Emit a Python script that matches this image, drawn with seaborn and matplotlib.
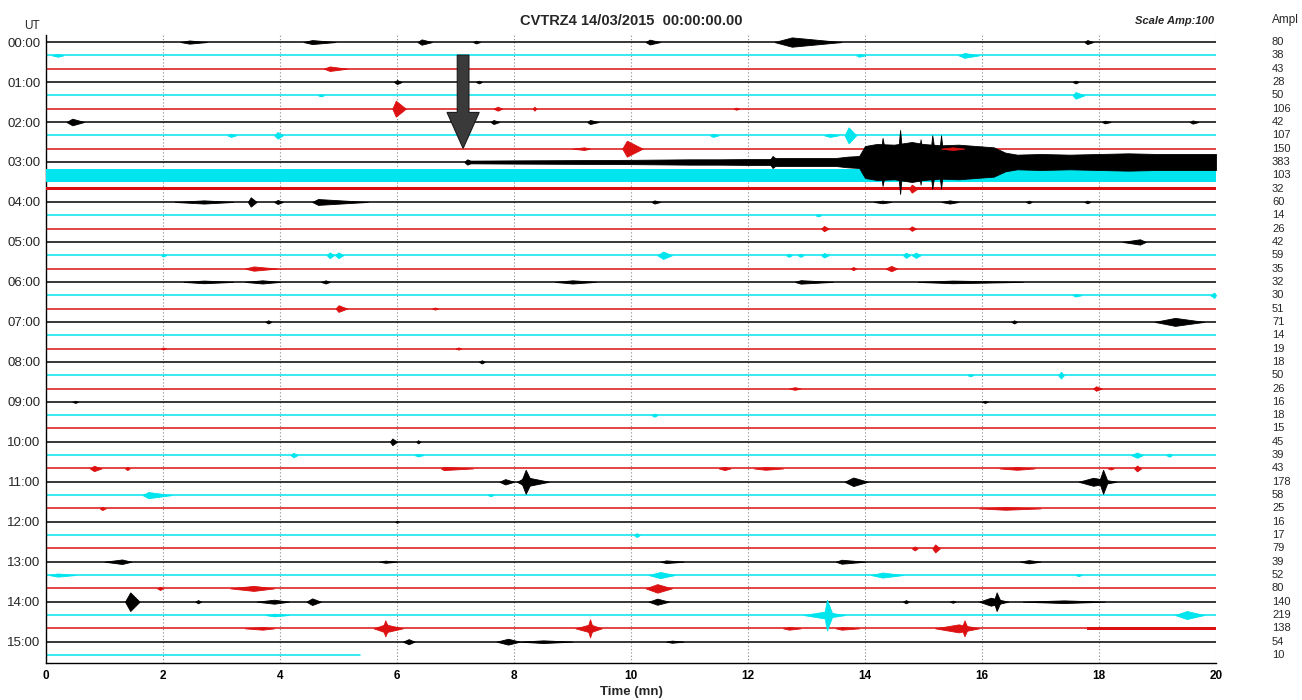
import numpy as np
import pandas as pd
import matplotlib
matplotlib.use("Agg")
import matplotlib.pyplot as plt
import matplotlib.transforms as mtransforms
from matplotlib.patches import FancyArrow
import seaborn as sns

# helicorder CVTRZ4, one trace every 20 min
hour_labels = ["00:00", "01:00", "02:00", "03:00", "04:00", "05:00", "06:00", "07:00",
               "08:00", "09:00", "10:00", "11:00", "12:00", "13:00", "14:00", "15:00"]
ampl = [80, 38, 43, 28, 50, 106, 42, 107, 150, 383, 103, 32, 60, 14, 26, 42,
        59, 35, 32, 30, 51, 71, 14, 19, 18, 50, 26, 16, 18, 15, 45, 39,
        43, 178, 58, 25, 16, 17, 79, 39, 52, 80, 140, 219, 138, 54, 10]
n_rows = len(ampl)
last_trace_end = 5.37   # minutes recorded on the last line (15:20)

# 03:00 line: envelope of the long signal (minutes, half width in row units)
row9_env_t = [7.2, 8.0, 9.0, 10.0, 10.5, 11.0, 11.5, 12.0, 12.4, 12.5, 13.0, 13.5, 13.7,
              13.9, 14.0, 14.2, 14.5, 14.8, 15.0, 15.3, 15.6, 15.9, 16.2, 16.4, 16.6,
              17.0, 17.5, 18.0, 18.5, 19.0, 19.5, 20.0]
row9_env_h = [0.1, 0.12, 0.14, 0.16, 0.18, 0.2, 0.2, 0.22, 0.22, 0.3, 0.3, 0.3, 0.4,
              0.45, 1.2, 1.35, 1.3, 1.5, 1.35, 1.25, 1.3, 1.2, 1.1, 0.7, 0.55,
              0.6, 0.55, 0.6, 0.65, 0.6, 0.6, 0.6]

# other background noise bands: (row, t_start, t_end, half width in row units)
noise_bands = [
    (10, 0.0, 20.0, 0.5), (11, 0.0, 20.0, 0.12), (44, 17.8, 20.0, 0.12),
]

# events: (row, t_start, t_peak, t_end, half amplitude in row units)
events = [
    (0, 2.3, 2.45, 2.75, 0.12), (0, 4.4, 4.55, 4.95, 0.15), (0, 6.35, 6.42, 6.6, 0.2),
    (0, 7.3, 7.35, 7.42, 0.1), (0, 10.25, 10.32, 10.5, 0.18), (0, 12.45, 12.75, 13.6, 0.35),
    (0, 17.75, 17.8, 17.9, 0.15),
    (1, 0.1, 0.2, 0.3, 0.1), (1, 13.85, 13.9, 14.0, 0.1), (1, 15.6, 15.7, 15.95, 0.18),
    (2, 4.75, 4.85, 5.15, 0.17),
    (3, 5.95, 6.0, 6.08, 0.15), (3, 7.35, 7.4, 7.45, 0.1), (3, 17.55, 17.6, 17.65, 0.1),
    (4, 4.65, 4.7, 4.75, 0.08), (4, 17.55, 17.6, 17.75, 0.25),
    (5, 5.92, 5.98, 6.15, 0.6), (5, 7.65, 7.72, 7.8, 0.15), (5, 8.32, 8.35, 8.38, 0.15),
    (5, 11.75, 11.8, 11.85, 0.08),
    (6, 0.35, 0.45, 0.65, 0.25), (6, 7.6, 7.65, 7.75, 0.15), (6, 9.25, 9.3, 9.45, 0.15),
    (6, 18.05, 18.1, 18.2, 0.1), (6, 19.55, 19.6, 19.7, 0.12),
    (7, 3.1, 3.16, 3.25, 0.12), (7, 3.9, 3.96, 4.05, 0.25), (7, 11.35, 11.4, 11.5, 0.12),
    (7, 13.3, 13.4, 13.55, 0.12), (7, 13.65, 13.72, 13.85, 0.6),
    (8, 9.0, 9.2, 9.3, 0.1), (8, 9.85, 9.93, 10.2, 0.6), (8, 15.3, 15.5, 15.7, 0.1),
    (9, 7.15, 7.2, 7.3, 0.2), (9, 12.35, 12.42, 12.55, 0.45),
    (9, 14.25, 14.3, 14.38, 1.8), (9, 14.55, 14.6, 14.65, 2.4), (9, 14.9, 14.95, 15.0, 1.7),
    (9, 15.1, 15.15, 15.22, 2.0), (9, 15.25, 15.3, 15.35, 2.0),
    (11, 14.75, 14.8, 14.9, 0.3),
    (12, 2.2, 2.7, 3.2, 0.12), (12, 3.45, 3.5, 3.6, 0.35), (12, 3.9, 3.96, 4.05, 0.15),
    (12, 4.55, 4.65, 5.5, 0.22), (12, 10.35, 10.4, 10.5, 0.12), (12, 14.15, 14.3, 14.45, 0.1),
    (12, 15.3, 15.45, 15.6, 0.12), (12, 16.75, 16.8, 16.85, 0.1), (12, 17.75, 17.8, 17.85, 0.1),
    (13, 13.15, 13.2, 13.25, 0.08),
    (14, 13.25, 13.3, 13.38, 0.2), (14, 14.75, 14.8, 14.87, 0.17),
    (15, 18.4, 18.7, 18.8, 0.2),
    (16, 1.97, 2.0, 2.05, 0.1), (16, 4.8, 4.85, 4.92, 0.22), (16, 4.94, 5.0, 5.08, 0.22),
    (16, 10.45, 10.55, 10.7, 0.28), (16, 12.65, 12.7, 12.75, 0.12), (16, 12.85, 12.9, 12.95, 0.12),
    (16, 13.25, 13.3, 13.38, 0.17), (16, 14.65, 14.7, 14.77, 0.2), (16, 14.8, 14.87, 14.95, 0.2),
    (17, 3.4, 3.55, 3.95, 0.16), (17, 13.75, 13.8, 13.85, 0.12), (17, 14.35, 14.45, 14.55, 0.2),
    (18, 2.35, 2.7, 3.2, 0.1), (18, 3.4, 3.7, 4.0, 0.12), (18, 4.7, 4.78, 4.85, 0.12),
    (18, 8.7, 9.0, 9.4, 0.12), (18, 12.8, 12.9, 13.45, 0.13), (18, 14.9, 15.5, 16.7, 0.1),
    (19, 17.55, 17.6, 17.7, 0.1), (19, 19.9, 19.97, 20.0, 0.2),
    (20, 4.95, 5.0, 5.15, 0.25), (20, 6.6, 6.65, 6.7, 0.08),
    (21, 3.75, 3.8, 3.85, 0.12), (21, 16.5, 16.55, 16.6, 0.12), (21, 18.95, 19.3, 19.8, 0.3),
    (23, 1.97, 2.0, 2.05, 0.08), (23, 7.0, 7.05, 7.1, 0.08),
    (24, 7.4, 7.45, 7.5, 0.12),
    (25, 15.75, 15.8, 15.85, 0.08), (25, 17.3, 17.35, 17.4, 0.25),
    (26, 12.7, 12.8, 12.9, 0.1), (26, 17.9, 17.95, 18.05, 0.17),
    (27, 0.45, 0.5, 0.55, 0.08), (27, 16.0, 16.05, 16.1, 0.08),
    (28, 10.35, 10.4, 10.45, 0.12),
    (30, 5.88, 5.92, 6.0, 0.25), (30, 6.33, 6.36, 6.4, 0.12),
    (31, 4.18, 4.23, 4.3, 0.17), (31, 6.3, 6.36, 6.45, 0.1), (31, 18.55, 18.65, 18.75, 0.2),
    (31, 19.15, 19.2, 19.25, 0.12),
    (32, 0.75, 0.82, 0.95, 0.2), (32, 1.35, 1.39, 1.43, 0.12), (32, 6.75, 6.8, 7.3, 0.12),
    (32, 11.5, 11.6, 11.7, 0.12), (32, 12.1, 12.3, 12.6, 0.1), (32, 16.3, 16.6, 16.9, 0.1),
    (32, 18.15, 18.2, 18.25, 0.08), (32, 18.6, 18.65, 18.72, 0.22),
    (33, 7.75, 7.85, 8.0, 0.2), (33, 8.05, 8.2, 8.6, 0.35), (33, 8.12, 8.2, 8.3, 0.9),
    (33, 13.65, 13.8, 14.05, 0.32), (33, 17.65, 17.9, 18.3, 0.3), (33, 18.0, 18.07, 18.15, 0.9),
    (34, 1.65, 1.75, 2.15, 0.23), (34, 7.55, 7.6, 7.65, 0.08),
    (35, 0.92, 0.96, 1.02, 0.12), (35, 15.95, 16.4, 17.0, 0.1),
    (36, 5.97, 6.0, 6.03, 0.08),
    (37, 10.05, 10.1, 10.15, 0.15),
    (38, 14.8, 14.85, 14.9, 0.15), (38, 15.15, 15.2, 15.28, 0.3),
    (39, 1.0, 1.3, 1.46, 0.17), (39, 5.7, 5.8, 6.0, 0.08), (39, 10.5, 10.6, 10.9, 0.1),
    (39, 13.5, 13.6, 14.0, 0.15), (39, 16.65, 16.8, 17.0, 0.12),
    (40, 0.05, 0.2, 0.5, 0.12), (40, 10.3, 10.5, 10.75, 0.23), (40, 14.1, 14.3, 14.65, 0.19),
    (40, 17.6, 17.65, 17.7, 0.08),
    (41, 1.9, 1.95, 2.0, 0.12), (41, 3.15, 3.55, 3.9, 0.19), (41, 10.25, 10.45, 10.7, 0.32),
    (42, 1.35, 1.44, 1.6, 0.7), (42, 2.55, 2.6, 2.65, 0.12), (42, 3.6, 3.9, 4.15, 0.15),
    (42, 4.45, 4.55, 4.7, 0.25), (42, 10.3, 10.45, 10.65, 0.23), (42, 14.65, 14.7, 14.75, 0.12),
    (42, 15.45, 15.5, 15.55, 0.08), (42, 15.95, 16.15, 16.45, 0.3), (42, 16.2, 16.25, 16.32, 0.7),
    (42, 16.7, 17.4, 18.1, 0.1),
    (43, 3.75, 3.9, 4.15, 0.1), (43, 12.95, 13.3, 13.66, 0.25), (43, 13.3, 13.35, 13.45, 1.15),
    (43, 19.3, 19.5, 19.8, 0.3),
    (44, 3.4, 3.7, 3.9, 0.1), (44, 5.6, 5.8, 6.1, 0.3), (44, 5.75, 5.8, 5.86, 0.6),
    (44, 9.05, 9.3, 9.5, 0.3), (44, 9.25, 9.3, 9.35, 0.68), (44, 12.6, 12.7, 12.9, 0.1),
    (44, 13.5, 13.6, 13.9, 0.1), (44, 15.2, 15.6, 15.95, 0.3), (44, 15.65, 15.7, 15.76, 0.6),
    (45, 6.1, 6.2, 6.3, 0.19), (45, 7.7, 7.9, 8.1, 0.22), (45, 8.1, 8.5, 9.0, 0.1),
    (45, 10.6, 10.7, 10.9, 0.08),
]

# arrow pointing at the start of the 03:00 signal
arrow_t = 7.13
arrow_rows = (0.98, 7.98)

trace_colors = ["#000000", "#00e5ee", "#dd1111"]
row_colors = [trace_colors[i % 3] for i in range(n_rows)]

sns.set_style("white")
plt.rcParams["font.family"] = ["Liberation Sans", "DejaVu Sans"]

fig = plt.figure(figsize=(13.02, 7.0), dpi=100)
ax = fig.add_axes([46 / 1302, 1 - 663 / 700, 1170 / 1302, 628 / 700])

# baselines
ends = [20.0] * (n_rows - 1) + [last_trace_end]
base = pd.DataFrame({
    "t": [0.0] * n_rows + ends,
    "row": list(range(n_rows)) * 2,
    "trace": [f"r{i:02d}" for i in range(n_rows)] * 2,
})
sns.lineplot(data=base, x="t", y="row", hue="trace",
             palette={f"r{i:02d}": row_colors[i] for i in range(n_rows)},
             estimator=None, legend=False, linewidth=1.1, ax=ax)


def zo(r):
    # earlier rows drawn on top of later ones
    return 3 + (n_rows - r) * 0.01


# 03:00 long signal
env_h = np.array(row9_env_h)
ax.fill_between(row9_env_t, 9 - env_h, 9 + env_h, color=row_colors[9], lw=0.6,
                edgecolor=row_colors[9], zorder=zo(9))

for r, t0, t1, h in noise_bands:
    ax.fill_between([t0, t1], [r - h, r - h], [r + h, r + h],
                    color=row_colors[r], lw=0, zorder=zo(r))
for r, t0, tp, t1, a in events:
    ax.fill_between([t0, tp, t1], [r, r - a, r], [r, r + a, r],
                    color=row_colors[r], lw=0.6, edgecolor=row_colors[r], zorder=zo(r))

ax.add_patch(FancyArrow(arrow_t, arrow_rows[0], 0, arrow_rows[1] - arrow_rows[0],
                        width=0.2, head_width=0.55, head_length=2.7,
                        length_includes_head=True, facecolor="#3a3a3a",
                        edgecolor="#1a1a1a", lw=0.8, zorder=5))

ax.set_xlim(0, 20)
ax.set_ylim(46.6, -0.53)
for t in range(2, 21, 2):
    ax.axvline(t, color="#8a8a8a", lw=0.8, ls=(0, (1, 2)), zorder=1)

ax.set_xticks(range(0, 21, 2))
ax.set_xticklabels([str(t) for t in range(0, 21, 2)], fontweight="bold", fontsize=8.5)
ax.set_yticks(range(0, n_rows, 3))
ax.set_yticklabels(hour_labels, fontsize=9.5)
ax.tick_params(axis="x", direction="in", length=7.5, width=1.2, pad=5, colors="black")
ax.tick_params(axis="y", length=0, pad=4)
ax.set_xlabel("Time (mn)", fontweight="bold", fontsize=9.5, labelpad=3)
ax.set_ylabel("")
for side in ["top", "right"]:
    ax.spines[side].set_visible(False)
for side in ["left", "bottom"]:
    ax.spines[side].set_color("black")
    ax.spines[side].set_linewidth(1.0)

# header texts
fig.text(631 / 1302, 1 - 21 / 700, "CVTRZ4 14/03/2015  00:00:00.00", ha="center", va="center",
         fontsize=10.5, fontweight="bold")
fig.text(1214 / 1302, 1 - 21 / 700, "Scale Amp:100", ha="right", va="center",
         fontsize=8, fontweight="bold", style="italic")
fig.text(32 / 1302, 1 - 26 / 700, "UT", ha="center", va="center", fontsize=8.5)
fig.text(1272 / 1302, 1 - 20 / 700, "Ampl", ha="left", va="center", fontsize=8.5)

# amplitude column
trans = mtransforms.blended_transform_factory(fig.transFigure, ax.transData)
for i, a in enumerate(ampl):
    ax.text(1272 / 1302, i, str(a), transform=trans, ha="left", va="center", fontsize=8)

fig.savefig("out.png", dpi=100)
